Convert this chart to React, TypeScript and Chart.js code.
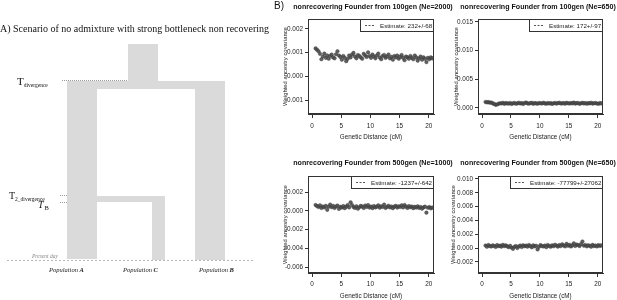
import React, { useEffect, useRef } from 'react';
import { Chart, registerables } from 'chart.js';

Chart.register(...registerables);

// ---------------- Panel B data ----------------
const geneticDistanceCM = [
  0.6, 0.85, 1.1, 1.35, 1.6, 1.85, 2.1, 2.35, 2.6, 2.85,
  3.1, 3.35, 3.6, 3.85, 4.1, 4.35, 4.6, 4.85, 5.1, 5.35,
  5.6, 5.85, 6.1, 6.35, 6.6, 6.85, 7.1, 7.35, 7.6, 7.85,
  8.1, 8.35, 8.6, 8.85, 9.1, 9.35, 9.6, 9.85, 10.1, 10.35,
  10.6, 10.85, 11.1, 11.35, 11.6, 11.85, 12.1, 12.35, 12.6, 12.85,
  13.1, 13.35, 13.6, 13.85, 14.1, 14.35, 14.6, 14.85, 15.1, 15.35,
  15.6, 15.85, 16.1, 16.35, 16.6, 16.85, 17.1, 17.35, 17.6, 17.85,
  18.1, 18.35, 18.6, 18.85, 19.1, 19.35, 19.6, 19.85, 20.1, 20.35,
  20.6,
];

// covariance values in units of 0.001
const covUnit = 0.001;
const covFounder100Ne2000 = [
  1.18, 1.12, 1.06, 0.95, 0.72, 0.84, 0.96, 0.78, 0.88, 0.74,
  0.86, 0.92, 0.80, 0.76, 0.93, 1.06, 0.88, 0.82, 0.70, 0.86,
  0.78, 0.64, 0.74, 0.88, 0.80, 0.92, 0.99, 0.84, 0.76, 0.90,
  0.86, 0.80, 0.74, 0.95, 0.88, 0.82, 1.01, 0.86, 0.78, 0.92,
  0.84, 0.76, 0.88, 0.96, 0.80, 0.72, 0.86, 0.90, 0.78, 0.84,
  0.92, 0.76, 0.82, 0.70, 0.86, 0.80, 0.88, 0.74, 0.82, 0.90,
  0.78, 0.68, 0.84, 0.80, 0.74, 0.86, 0.78, 0.72, 0.88, 0.80,
  0.66, 0.76, 0.84, 0.70, 0.80, 0.74, 0.60, 0.78, 0.72, 0.80,
  0.76,
];
const covFounder100Ne650 = [
  1.05, 0.98, 1.02, 0.92, 0.96, 0.80, 0.70, 0.55, 0.62, 0.74,
  0.82, 0.78, 0.90, 0.72, 0.84, 0.80, 0.76, 0.88, 0.70, 0.82,
  0.86, 0.74, 0.80, 0.92, 0.78, 0.84, 0.70, 0.88, 0.96, 0.80,
  0.76, 0.84, 0.90, 0.72, 0.86, 0.80, 0.74, 0.88, 0.82, 0.78,
  0.92, 0.80, 0.74, 0.86, 0.78, 0.84, 0.70, 0.82, 0.88, 0.76,
  0.84, 0.92, 0.78, 0.80, 0.86, 0.74, 0.90, 0.82, 0.78, 0.86,
  0.80, 0.94, 0.76, 0.84, 0.88, 0.72, 0.82, 0.90, 0.78, 0.86,
  0.74, 0.84, 0.80, 0.92, 0.76, 0.82, 0.88, 0.78, 0.72, 0.84,
  0.80,
];
const covFounder500Ne1000 = [
  0.62, 0.50, 0.40, 0.58, 0.30, 0.46, 0.36, 0.52, 0.10, 0.44,
  0.66, 0.38, 0.52, 0.30, 0.46, 0.56, 0.20, 0.42, 0.34, 0.50,
  0.28, 0.44, 0.60, 0.36, 0.90, 0.62, 0.40, 0.30, 0.48, 0.22,
  0.38, 0.52, 0.44, 0.30, 0.56, 0.40, 0.60, 0.34, 0.46, 0.28,
  0.50, 0.36, 0.44, 0.58, 0.32, 0.48, 0.40, 0.66, 0.30, 0.42,
  0.54, 0.36, 0.46, 0.28, 0.44, 0.52, 0.34, 0.48, 0.40, 0.58,
  0.36, 0.62, 0.44, 0.30, 0.50, 0.38, 0.46, 0.28, 0.42, 0.34,
  0.48, 0.30, 0.40, 0.22, 0.36, 0.44, -0.20, 0.32, 0.40, 0.26,
  0.34,
];
const covFounder500Ne650 = [
  0.38, 0.20, 0.46, 0.30, 0.24, 0.40, 0.32, 0.18, 0.44, 0.28,
  0.36, 0.22, 0.48, 0.30, 0.40, 0.26, 0.14, 0.34, 0.08, -0.10,
  0.20, 0.30, 0.02, 0.24, 0.38, 0.16, 0.42, 0.28, 0.36, 0.22,
  0.46, 0.30, 0.12, 0.40, 0.26, 0.34, -0.18, 0.20, 0.44, 0.30,
  0.24, 0.38, 0.14, 0.46, 0.32, 0.20, 0.40, 0.28, 0.50, 0.36,
  0.22, 0.44, 0.30, 0.56, 0.38, 0.26, 0.62, 0.34, 0.48, 0.24,
  0.40, 0.70, 0.32, 0.52, 0.44, 0.30, 0.58, 0.96, 0.36, 0.46,
  0.26, 0.42, 0.34, 0.20, 0.48, 0.30, 0.38, 0.24, 0.44, 0.32,
  0.40,
];

const plotSeries = [covFounder100Ne2000, covFounder100Ne650, covFounder500Ne1000, covFounder500Ne650];
const plotTitles = [
  'nonrecovering Founder from 100gen (Ne=2000)',
  'nonrecovering Founder from 100gen (Ne=650)',
  'nonrecovering Founder from 500gen (Ne=1000)',
  'nonrecovering Founder from 500gen (Ne=650)',
];
const estimateLabels = [
  'Estimate: 232+/-68',
  'Estimate: 172+/-97',
  'Estimate: -1237+/-642',
  'Estimate: -77799+/-27062',
];
const yAxisMin = [-0.00159, -0.00105, -0.00664, -0.00359];
const yAxisMax = [0.00242, 0.01552, 0.00371, 0.01043];
const yTickStep = [0.001, 0.005, 0.002, 0.002];
const xAxisMin = -0.7;
const xAxisMax = 20.9;
const xTickStep = 5;
const xAxisTitle = 'Genetic Distance (cM)';
const yAxisTitle = 'Weighted ancestry covariance';

// ---------------- Panel A (schematic) data, diagram units ----------------
const blockNames = ['Ancestral', 'Split band', 'Population A', 'Population C', 'Population B', 'C founder branch'];
const blockLeft = [128, 67, 67, 152, 195, 95];
const blockRight = [158, 225, 97, 165, 225, 165];
const blockTop = [216, 179, 179, 64, 179, 64];
const blockBottom = [178, 171, 1, 0, 0, 58];

const eventNames = ['T divergence', 'T2_divergence', 'T B', 'Present day'];
const eventTimes = [179.5, 64.5, 57.5, -0.5];
const eventLineStart = [62, 60, 60, 7];
const eventLineEnd = [128, 67, 67, 253];

const SANS = '"Liberation Sans", Arial, Helvetica, sans-serif';
const SERIF = '"Liberation Serif", "Times New Roman", serif';

const TITLE_SIZE = 7.1;
const TICK_SIZE = 6.4;
const X_TITLE_SIZE = 6.3;
const Y_TITLE_SIZE = 5.9;
const LEGEND_SIZE = 6.2;

type PanelLayout = {
  left: number; top: number; width: number; height: number;
  chartTop: number; xAxisHeight: number; yAxisWidth: number; rightPad: number;
  titleCenter: number; titleShift: number; xTickPad: number; xTitlePad: number; yTitlePad: number;
};

const panelLayouts: PanelLayout[] = [
  { left: 276, top: 0, width: 190, height: 145, chartTop: 19, xAxisHeight: 31, yAxisWidth: 32, rightPad: 32, titleCenter: 7, titleShift: 2, xTickPad: 4, xTitlePad: 4, yTitlePad: 5.5 },
  { left: 446, top: 0, width: 171, height: 145, chartTop: 19, xAxisHeight: 31, yAxisWidth: 32, rightPad: 14, titleCenter: 7, titleShift: -2.5, xTickPad: 4, xTitlePad: 4, yTitlePad: 6.5 },
  { left: 276, top: 145, width: 190, height: 155, chartTop: 31, xAxisHeight: 27, yAxisWidth: 32, rightPad: 32, titleCenter: 18, titleShift: 2, xTickPad: 3, xTitlePad: 0, yTitlePad: 5.5 },
  { left: 446, top: 145, width: 171, height: 155, chartTop: 31, xAxisHeight: 27, yAxisWidth: 32, rightPad: 14, titleCenter: 18, titleShift: -2.5, xTickPad: 3, xTitlePad: 0, yTitlePad: 3.5 },
];

function ScatterPanel({ i }: { i: number }) {
  const ref = useRef<HTMLCanvasElement>(null);
  const L = panelLayouts[i];
  useEffect(() => {
    if (!ref.current) return;
    const values = plotSeries[i];
    const points = values.map((v, k) => ({ x: geneticDistanceCM[k], y: v * covUnit }));
    const label = estimateLabels[i];
    const title = plotTitles[i];

    const boxPlugin = {
      id: 'rBox' + i,
      afterDraw(chart: any) {
        const { ctx, chartArea: a } = chart;
        ctx.save();
        // plot title (R main title, centred over plot region)
        ctx.font = `bold ${TITLE_SIZE}px ${SANS}`;
        ctx.fillStyle = '#111';
        ctx.textAlign = 'center';
        ctx.textBaseline = 'middle';
        ctx.fillText(title, (a.left + a.right) / 2 + L.titleShift, L.titleCenter);
        // box
        ctx.strokeStyle = '#333';
        ctx.lineWidth = 1;
        ctx.strokeRect(Math.round(a.left) + 0.5, Math.round(a.top) + 0.5, Math.round(a.right - a.left) - 1, Math.round(a.bottom - a.top) - 1);
        // legend (R-style, top right)
        ctx.font = `${LEGEND_SIZE}px ${SANS}`;
        const tw = ctx.measureText(label).width;
        const padL = 5, lineLen = 10, gap = 5, padR = 2, h = 12;
        const w = Math.round(padL + lineLen + gap + tw + padR);
        const x0 = Math.round(a.right) - w;
        const y0 = Math.round(a.top);
        ctx.fillStyle = '#fff';
        ctx.fillRect(x0, y0 + 1, w - 1, h);
        ctx.strokeStyle = '#333';
        ctx.strokeRect(x0 + 0.5, y0 + 0.5, w - 1, h);
        ctx.beginPath();
        ctx.setLineDash([2, 1.5]);
        ctx.strokeStyle = '#555';
        ctx.moveTo(x0 + padL, y0 + h / 2 + 0.5);
        ctx.lineTo(x0 + padL + lineLen, y0 + h / 2 + 0.5);
        ctx.stroke();
        ctx.setLineDash([]);
        ctx.fillStyle = '#222';
        ctx.textBaseline = 'middle';
        ctx.textAlign = 'left';
        ctx.fillText(label, x0 + padL + lineLen + gap, y0 + h / 2 + 1);
        ctx.restore();
      },
    };

    const tickFont = { size: TICK_SIZE, family: SANS };
    const chart = new Chart(ref.current, {
      type: 'scatter',
      data: {
        datasets: [{
          data: points,
          pointRadius: 1.8,
          pointBorderWidth: 0.4,
          pointBackgroundColor: 'rgba(80,80,80,0.9)',
          pointBorderColor: 'rgba(45,45,45,0.9)',
        }],
      },
      options: {
        responsive: false,
        animation: false,
        events: [],
        layout: { padding: { left: 0, right: L.rightPad, top: L.chartTop, bottom: 0 } },
        plugins: {
          legend: { display: false },
          tooltip: { enabled: false },
          title: { display: false },
        },
        scales: {
          x: {
            type: 'linear',
            min: xAxisMin,
            max: xAxisMax,
            afterFit: (s: any) => { s.height = L.xAxisHeight; },
            ticks: { stepSize: xTickStep, includeBounds: false, font: tickFont, color: '#222', padding: L.xTickPad, maxRotation: 0, autoSkip: false },
            grid: { display: true, drawOnChartArea: false, drawTicks: true, tickLength: 4, color: '#333' },
            border: { display: true, color: '#333' },
            title: { display: true, text: xAxisTitle, font: { size: X_TITLE_SIZE, family: SANS, lineHeight: 1.2 }, color: '#222', padding: { top: 0, bottom: L.xTitlePad } },
          },
          y: {
            type: 'linear',
            min: yAxisMin[i],
            max: yAxisMax[i],
            afterFit: (s: any) => { s.width = L.yAxisWidth; },
            ticks: {
              stepSize: yTickStep[i], includeBounds: false, font: tickFont, color: '#222', padding: 2,
              callback: (v: any) => (Math.abs(Number(v)) < 1e-12 ? '0.000' : Number(v).toFixed(3)),
            },
            grid: { display: true, drawOnChartArea: false, drawTicks: true, tickLength: 3, color: '#333' },
            border: { display: true, color: '#333' },
            title: { display: true, text: yAxisTitle, font: { size: Y_TITLE_SIZE, family: SANS, lineHeight: 1.2 }, color: '#222', padding: { top: L.yTitlePad, bottom: 0 } },
          },
        },
      } as any,
      plugins: [boxPlugin],
    });
    return () => chart.destroy();
  }, [i]);
  return (
    <canvas ref={ref} width={L.width} height={L.height}
      style={{ position: 'absolute', left: L.left, top: L.top, width: L.width, height: L.height }} />
  );
}

function SchematicPanel() {
  const ref = useRef<HTMLCanvasElement>(null);
  useEffect(() => {
    if (!ref.current) return;
    const blockSets = blockNames.map((name, k) => ({
      label: name,
      data: [{ x: blockLeft[k], y: blockTop[k] }, { x: blockRight[k], y: blockTop[k] }],
      fill: { value: blockBottom[k] },
      backgroundColor: '#dadada',
      borderColor: 'rgba(0,0,0,0)',
      borderWidth: 0,
      pointRadius: 0,
    }));
    const eventSets = eventNames.map((name, k) => ({
      label: name,
      data: [{ x: eventLineStart[k], y: eventTimes[k] }, { x: eventLineEnd[k], y: eventTimes[k] }],
      fill: false,
      borderColor: k === 3 ? '#b8b8b8' : '#9a9a9a',
      borderWidth: 1,
      borderDash: k === 3 ? [2, 2] : [1, 1],
      pointRadius: 0,
    }));
    const chart = new Chart(ref.current, {
      type: 'line',
      data: { datasets: [...blockSets, ...eventSets] as any },
      options: {
        responsive: false,
        animation: false,
        events: [],
        layout: { padding: 0 },
        plugins: { legend: { display: false }, tooltip: { enabled: false } },
        scales: {
          x: { type: 'linear', min: 0, max: 275, display: false },
          y: { type: 'linear', min: -40, max: 260, display: false },
        },
      } as any,
    });
    return () => chart.destroy();
  }, []);
  return <canvas ref={ref} width={275} height={300} style={{ position: 'absolute', left: 0, top: 0, width: 275, height: 300 }} />;
}

const abs = (left: number, top: number, extra: any = {}) => ({ position: 'absolute' as const, left, top, whiteSpace: 'nowrap' as const, lineHeight: 1, ...extra });

export default function App() {
  return (
    <div style={{ position: 'fixed', left: 0, top: 0, width: 617, height: 300, background: '#fff', overflow: 'hidden' }}>
      <SchematicPanel />
      <div style={abs(0, 24, { fontFamily: SERIF, fontSize: 10, color: '#111' })}>
        A) Scenario of no admixture with strong bottleneck non recovering
      </div>
      <div style={abs(17, 72, { fontFamily: SERIF, color: '#111' })}>
        <span style={{ fontSize: 11 }}>T</span>
        <span style={{ fontSize: 5.5, position: 'relative', top: 2 }}>divergence</span>
      </div>
      <div style={abs(9, 186, { fontFamily: SERIF, color: '#111' })}>
        <span style={{ fontSize: 10 }}>T</span>
        <span style={{ fontSize: 5.5, position: 'relative', top: 2 }}>2_divergence</span>
      </div>
      <div style={abs(38, 195, { fontFamily: SERIF, color: '#111' })}>
        <span style={{ fontSize: 10, fontStyle: 'italic' }}>T</span>
        <span style={{ fontSize: 6.5, position: 'relative', top: 2, marginLeft: 1 }}>B</span>
      </div>
      <div style={abs(32, 254, { fontFamily: SERIF, fontSize: 5.5, fontStyle: 'italic', color: '#888' })}>
        Present day
      </div>
      <div style={abs(49, 267, { fontFamily: SERIF, fontSize: 6.5, fontStyle: 'italic', color: '#222' })}>
        Population <b>A</b>
      </div>
      <div style={abs(123, 267, { fontFamily: SERIF, fontSize: 6.5, fontStyle: 'italic', color: '#222' })}>
        Population <b>C</b>
      </div>
      <div style={abs(199, 267, { fontFamily: SERIF, fontSize: 6.5, fontStyle: 'italic', color: '#222' })}>
        Population <b>B</b>
      </div>
      <div style={abs(274, 1, { fontFamily: SANS, fontSize: 10, color: '#111' })}>B)</div>
      {panelLayouts.map((_, i) => <ScatterPanel key={i} i={i} />)}
    </div>
  );
}
